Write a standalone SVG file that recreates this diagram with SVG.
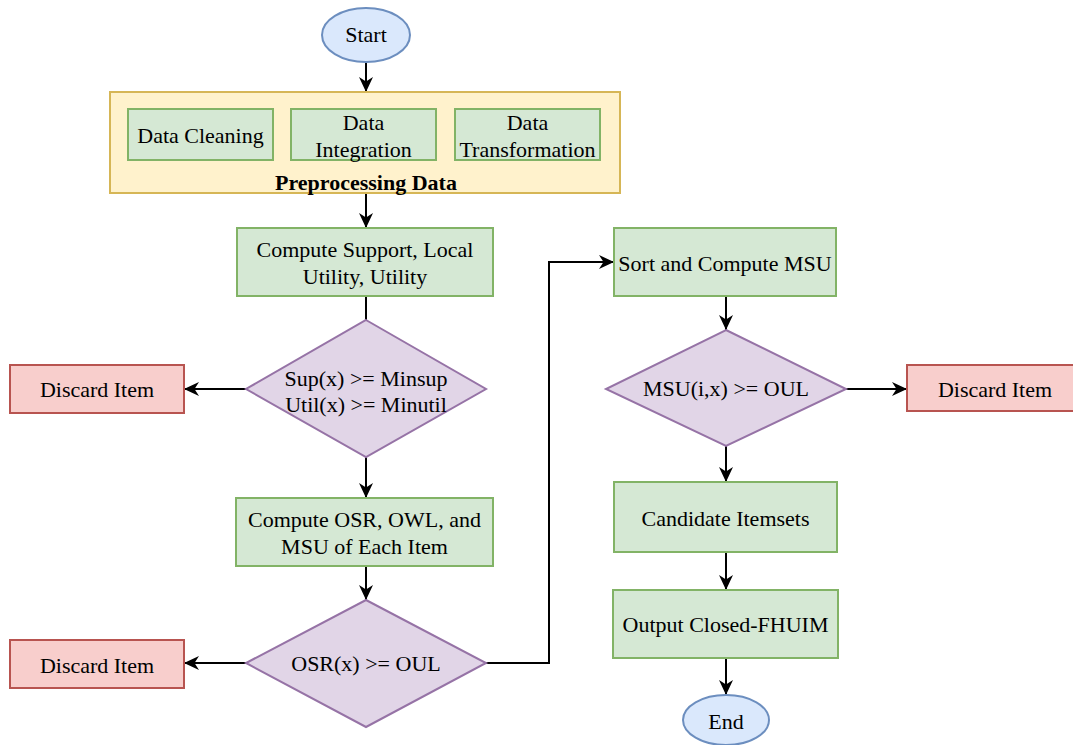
<svg xmlns="http://www.w3.org/2000/svg" width="1073" height="745" viewBox="0 0 1073 745">
<defs>
<marker id="arr" markerUnits="userSpaceOnUse" markerWidth="16" markerHeight="16" viewBox="0 0 16 16" refX="15" refY="8" orient="auto">
<path d="M0,1 L15,8 L0,15 L4.5,8 Z" fill="#000"/>
</marker>
</defs>
<style>
text{font-family:"Liberation Serif","Times New Roman",serif;font-size:22px;fill:#000;text-anchor:middle}
.g{fill:#d5e8d4;stroke:#82b366;stroke-width:2}
.r{fill:#f8cecc;stroke:#b85450;stroke-width:2}
.p{fill:#e1d5e7;stroke:#9673a6;stroke-width:2}
.b{fill:#dae8fc;stroke:#6c8ebf;stroke-width:2}
.y{fill:#fff2cc;stroke:#d6b656;stroke-width:2}
.c{fill:none;stroke:#000;stroke-width:2;marker-end:url(#arr)}
.l{fill:none;stroke:#000;stroke-width:2}
</style>
<rect width="1073" height="745" fill="#fff"/>
<g id="connectors">
<path class="c" d="M366,62 V92"/>
<path class="c" d="M366,193 V228"/>
<path class="l" d="M366,296 V320"/>
<path class="c" d="M246,389 H184"/>
<path class="c" d="M366,457 V498"/>
<path class="c" d="M366,566 V600"/>
<path class="c" d="M246,663 H184"/>
<path class="c" d="M486,663 H549 V262 H614"/>
<path class="c" d="M726,296 V330"/>
<path class="c" d="M846,389 H907"/>
<path class="c" d="M726,446 V482"/>
<path class="c" d="M726,552 V590"/>
<path class="c" d="M726,658 V695"/>
</g>
<g id="start"><ellipse class="b" cx="366" cy="35" rx="44" ry="27"/><text x="366" y="42">Start</text></g>
<g id="preprocessing">
<rect class="y" x="110" y="92" width="510" height="101"/>
<text x="366" y="190" font-weight="bold">Preprocessing Data</text>
</g>
<g id="cleaning"><rect class="g" x="128" y="109" width="145" height="51"/><text x="200.5" y="143">Data Cleaning</text></g>
<g id="integration"><rect class="g" x="291" y="109" width="145" height="51"/><text x="363.5" y="130">Data</text><text x="363.5" y="157">Integration</text></g>
<g id="transformation"><rect class="g" x="455" y="109" width="145" height="51"/><text x="527.5" y="130">Data</text><text x="527.5" y="157">Transformation</text></g>
<g id="compute-support"><rect class="g" x="237" y="228" width="256" height="68"/><text x="365" y="257">Compute Support, Local</text><text x="365" y="284">Utility, Utility</text></g>
<g id="decision1"><path class="p" d="M366,320 L486,389 L366,457 L246,389 Z"/><text x="366" y="386">Sup(x) &gt;= Minsup</text><text x="366" y="412">Util(x) &gt;= Minutil</text></g>
<g id="discard1"><rect class="r" x="10" y="365" width="174" height="48"/><text x="97" y="397">Discard Item</text></g>
<g id="compute-osr"><rect class="g" x="236" y="498" width="257" height="68"/><text x="364.5" y="527">Compute OSR, OWL, and</text><text x="364.5" y="554">MSU of Each Item</text></g>
<g id="decision2"><path class="p" d="M366,600 L486,663 L366,727 L246,663 Z"/><text x="366" y="671">OSR(x) &gt;= OUL</text></g>
<g id="discard2"><rect class="r" x="10" y="640" width="174" height="48"/><text x="97" y="673">Discard Item</text></g>
<g id="sort-msu"><rect class="g" x="614" y="228" width="222" height="68"/><text x="725" y="271">Sort and Compute MSU</text></g>
<g id="decision3"><path class="p" d="M726,330 L846,389 L726,446 L606,389 Z"/><text x="726" y="396">MSU(i,x) &gt;= OUL</text></g>
<g id="discard3"><rect class="r" x="907" y="365" width="170" height="46"/><text x="995" y="397">Discard Item</text></g>
<g id="candidate"><rect class="g" x="614" y="482" width="223" height="70"/><text x="725.5" y="526">Candidate Itemsets</text></g>
<g id="output"><rect class="g" x="613" y="590" width="225" height="68"/><text x="725.5" y="632">Output Closed-FHUIM</text></g>
<g id="end"><ellipse class="b" cx="726" cy="720" rx="43" ry="25"/><text x="726" y="729">End</text></g>
</svg>
